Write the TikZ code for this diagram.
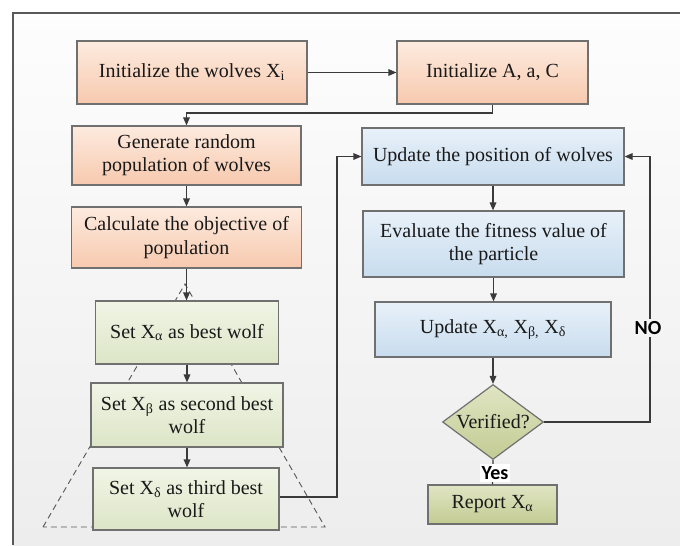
\documentclass[tikz,border=0pt]{standalone}
\usepackage{fontspec}
\setmainfont{Liberation Serif}
\newfontfamily\sansbold{Carlito}
\usetikzlibrary{shapes.geometric,arrows.meta}
\definecolor{edgegray}{HTML}{707070}
\definecolor{arrowgray}{HTML}{3A3A3A}
\definecolor{orTop}{HTML}{FDEBDF}
\definecolor{orBot}{HTML}{F7C9AE}
\definecolor{grTop}{HTML}{F1F5E6}
\definecolor{grBot}{HTML}{DCE5C6}
\definecolor{blTop}{HTML}{E8F1F9}
\definecolor{blBot}{HTML}{C8DCEE}
\definecolor{olTop}{HTML}{E0E5C3}
\definecolor{olBot}{HTML}{C3CB93}
\definecolor{bgTop}{HTML}{FDFDFD}
\definecolor{bgBot}{HTML}{EDEDED}
\definecolor{bgMid}{HTML}{F4F4F4}
\tikzset{
  every node/.style={inner sep=0pt},
  sz/.style 2 args={minimum width=#1*0.75pt, minimum height=#2*0.75pt},
  basebox/.style={draw=edgegray, line width=0.9pt, rectangle, align=center,
    font=\fontsize{15}{17.5}\selectfont, text=black!90},
  orbox/.style={basebox, top color=orTop, bottom color=orBot},
  grbox/.style={basebox, top color=grTop, bottom color=grBot},
  blbox/.style={basebox, top color=blTop, bottom color=blBot},
  olbox/.style={basebox, top color=olTop, bottom color=olBot},
  conn/.style={draw=arrowgray, line width=0.9pt},
  arr/.style={conn, -{Triangle[length=6pt,width=5pt]}},
  lbl/.style={font=\sansbold\fontsize{15}{17}\selectfont\bfseries, text=black, inner sep=1.5pt},
}
\begin{document}
\begin{tikzpicture}[x=0.75pt,y=-0.75pt]
\useasboundingbox (0,0) rectangle (680,545);
% background
\fill[white] (0,0) rectangle (680,545);
\shade[top color=bgTop, bottom color=bgBot] (13,13) rectangle (680,545);
\draw[draw=black!65, line width=1.2pt] (13,545) -- (13,13) -- (680,13);

% dashed triangle
\draw[dashed, dash pattern=on 4.5pt off 3pt, draw=black!65, line width=0.7pt]
  (43,527) -- (185,284) -- (325,527) -- cycle;

% left column
\node[orbox, sz={230}{63}] (b1) at (192,72.5) {Initialize the wolves X\textsubscript{i}};
\node[orbox, sz={191}{63}] (b2) at (492.5,72.5) {Initialize A, a, C};
\node[orbox, sz={229}{59}] (b3) at (186.5,155.5) {Generate random\\population of wolves};
\node[orbox, sz={230}{61}] (b4) at (186.5,237.5) {Calculate the objective of\\population};
\node[grbox, sz={183}{63}] (b5) at (187,332.5) {Set X\textsubscript{α} as best wolf};
\node[grbox, sz={192}{64}] (b6) at (187,415) {Set X\textsubscript{β} as second best\\wolf};
\node[grbox, sz={186}{62}] (b7) at (186,499) {Set X\textsubscript{δ} as third best\\wolf};

% right column
\node[blbox, sz={262}{57}] (u1) at (493,156.5) {Update the position of wolves};
\node[blbox, sz={261}{66}] (u2) at (493.5,244) {Evaluate the fitness value of\\the particle};
\node[blbox, sz={236}{55}] (u3) at (493,329.5) {Update X\textsubscript{α,} X\textsubscript{β,} X\textsubscript{δ}};
\node[olbox, diamond, sz={101}{75}] (d) at (493,422) {\makebox[0pt]{Verified?}};
\node[olbox, sz={129}{39}] (rep) at (492.5,504.5) {Report X\textsubscript{α}};

% connectors
\coordinate (k1) at (492.5,113);
\coordinate (k2) at (337,497);
\coordinate (k3) at (650,422);
\draw[arr] (b1.east) -- (b2.west);
\draw[arr] (b2.south) -- (k1) -| (b3.north);
\draw[arr] (b3.south) -- (b3.south |- b4.north);
\draw[arr] (b4.south) -- (b4.south |- b5.north);
\draw[arr] (b5.south) -- (b5.south |- b6.north);
\draw[arr] (b6.south) -- (b6.south |- b7.north);
\draw[arr] (b7.east |- k2) -- (k2) |- (u1.west);
\draw[arr] (u1.south) -- (u1.south |- u2.north);
\draw[arr] (u2.south) -- (u2.south |- u3.north);
\draw[arr] (u3.south) -- (d.north);
\draw[conn] (d.south) -- (rep.north);
\draw[arr] (d.east) -- (k3) |- (u1.east);

% labels
\node[lbl, fill=white] (yes) at (495,473) {Yes};
\node[lbl, fill=bgMid] (no) at (648,328) {NO};
\end{tikzpicture}
\end{document}
